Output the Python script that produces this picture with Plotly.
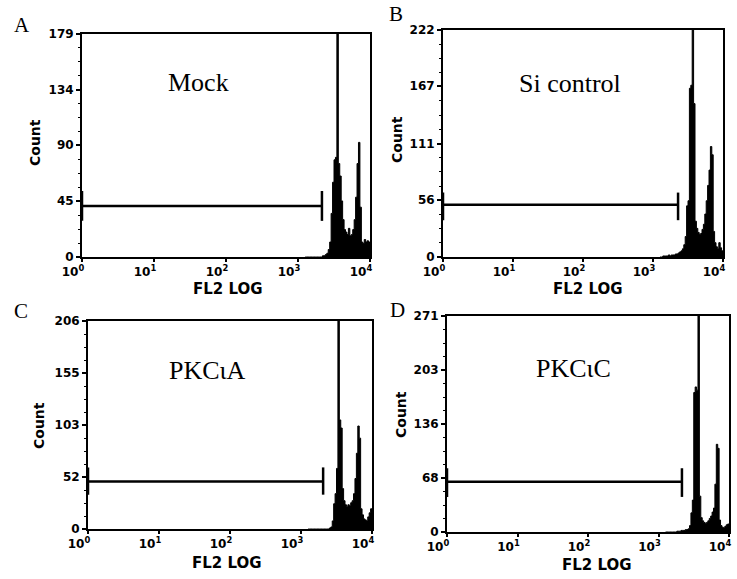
import plotly.graph_objects as go

# ---------------- data ----------------
# left edges of histogram channels, in log10(FL2) units
bin_edges_log = [3.10, 3.12, 3.14, 3.16, 3.18, 3.20, 3.22, 3.24, 3.26, 3.28,
                 3.30, 3.32, 3.34, 3.36, 3.38, 3.40, 3.42, 3.44, 3.46, 3.48,
                 3.50, 3.52, 3.54, 3.56, 3.58, 3.60, 3.62, 3.64, 3.66, 3.68,
                 3.70, 3.72, 3.74, 3.76, 3.78, 3.80, 3.82, 3.84, 3.86, 3.88,
                 3.90, 3.92, 3.94, 3.96, 3.98]
bin_end_log = 4.0

counts_mock = [0, 0, 0, 0, 0, 0, 0, 0, 0, 0,
               0, 0, 1, 1, 2, 3, 6, 12, 35, 60,
               78, 80, 260, 75, 65, 45, 30, 22, 20, 18,
               23, 17, 18, 22, 30, 48, 75, 92, 40, 12,
               11, 14, 12, 13, 12]
counts_sicontrol = [0, 0, 1, 1, 1, 1, 2, 1, 2, 2,
                    2, 3, 3, 4, 5, 6, 8, 12, 20, 50,
                    55, 165, 168, 270, 150, 35, 28, 24, 22, 23,
                    27, 32, 42, 55, 70, 85, 108, 100, 25, 14,
                    10, 8, 14, 9, 6]
counts_pkca = [0, 0, 0, 0, 0, 0, 0, 0, 0, 0,
               0, 0, 0, 0, 0, 1, 2, 8, 25, 35,
               60, 260, 108, 100, 40, 28, 24, 22, 24, 23,
               26, 28, 35, 50, 75, 102, 90, 20, 14, 10,
               9, 8, 12, 16, 20]
counts_pkcc = [0, 0, 0, 0, 0, 0, 0, 0, 1, 1,
               1, 2, 2, 2, 3, 3, 4, 8, 24, 40,
               175, 182, 178, 300, 45, 18, 14, 12, 11, 12,
               14, 17, 20, 25, 30, 60, 110, 105, 15, 8,
               6, 5, 7, 9, 10]

panel_letters = ["A", "B", "C", "D"]
panel_names = ["Mock", "Si control", "PKC\u03b9A", "PKC\u03b9C"]
y_maxima = [179, 222, 206, 271]
y_tick_values = [[0, 45, 90, 134, 179],
                 [0, 56, 111, 167, 222],
                 [0, 52, 103, 155, 206],
                 [0, 68, 136, 203, 271]]
x_tick_values = [1, 10, 100, 1000, 10000]
x_tick_labels = ["10<sup>0</sup>", "10<sup>1</sup>", "10<sup>2</sup>",
                 "10<sup>3</sup>", "10<sup>4</sup>"]
gate_start = [1, 1, 1, 1]
gate_end = [2150, 2280, 2050, 2150]
gate_level = [41, 51, 47, 63]
gate_tick_low = [29, 36, 34, 44]
gate_tick_high = [53, 63, 61, 80]
all_counts = [counts_mock, counts_sicontrol, counts_pkca, counts_pkcc]

# ---------------- layout (pixels) ----------------
W, H = 737, 579
# plot-area boxes: x0, x1, y0(top), y1(bottom)
boxes = [(82, 370, 34, 257), (443, 723, 30, 257),
         (88, 372, 321, 529), (447, 729, 316, 532)]
letter_pos = [(22, 25), (396, 14), (21, 311), (397, 310)]
name_pos = [(198, 82), (570, 83), (207, 370), (573, 368)]
count_pos = [(35, 143), (397, 140), (39, 426), (401, 415)]
fl2_pos = [(228, 289), (588, 289), (227, 563), (597, 565)]

def px(x):
    return x / W

def py(y):
    return 1 - y / H

fig = go.Figure()
tick_font = dict(family="DejaVu Sans", size=12, color="black", weight="bold")

for i in range(4):
    n = "" if i == 0 else str(i + 1)
    xa, ya = "x" + n, "y" + n
    xs = [10 ** e for e in bin_edges_log] + [10 ** bin_end_log]
    ys = all_counts[i] + [all_counts[i][-1]]
    fig.add_trace(go.Scatter(
        x=xs, y=ys, xaxis=xa, yaxis=ya, mode="lines",
        line=dict(shape="hv", color="black", width=1),
        fill="tozeroy", fillcolor="black", showlegend=False, hoverinfo="skip"))
    gx = [gate_start[i], gate_end[i], None,
          gate_start[i], gate_start[i], None,
          gate_end[i], gate_end[i]]
    gy = [gate_level[i], gate_level[i], None,
          gate_tick_low[i], gate_tick_high[i], None,
          gate_tick_low[i], gate_tick_high[i]]
    fig.add_trace(go.Scatter(
        x=gx, y=gy, xaxis=xa, yaxis=ya, mode="lines",
        line=dict(color="black", width=2.5), showlegend=False,
        hoverinfo="skip", cliponaxis=False))

    x0, x1, yt, yb = boxes[i]
    fig.layout["xaxis" + n] = dict(
        type="log", range=[0, 4], domain=[px(x0), px(x1)], anchor=ya,
        tickvals=x_tick_values, ticktext=x_tick_labels, automargin=False,
        ticklabelshift=-9, ticklabeloverflow="allow",
        showline=True, mirror=True, linecolor="black", linewidth=2,
        ticks="outside", ticklen=3, tickwidth=1.5, tickcolor="black",
        showgrid=False, zeroline=False, tickfont=tick_font)
    fig.layout["yaxis" + n] = dict(
        range=[0, y_maxima[i]], domain=[py(yb), py(yt)], anchor=xa,
        tickvals=y_tick_values[i], showline=True, mirror=True, automargin=False,
        linecolor="black", linewidth=2, ticks="outside", ticklen=4,
        tickwidth=1.5, tickcolor="black", showgrid=False, zeroline=False,
        minor=dict(tick0=0, dtick=y_maxima[i] / 16, ticks="outside",
                   ticklen=2, tickwidth=1, tickcolor="black"),
        tickfont=tick_font)

annotations = []
for i in range(4):
    lx, ly = letter_pos[i]
    annotations.append(dict(
        x=px(lx), y=py(ly), xref="paper", yref="paper", text=panel_letters[i],
        showarrow=False, xanchor="center", yanchor="middle",
        font=dict(family="Liberation Serif", size=21, color="black")))
    nx, ny = name_pos[i]
    annotations.append(dict(
        x=px(nx), y=py(ny), xref="paper", yref="paper", text=panel_names[i],
        showarrow=False, xanchor="center", yanchor="middle",
        font=dict(family="Liberation Serif", size=26, color="black")))
    cx, cy = count_pos[i]
    annotations.append(dict(
        x=px(cx), y=py(cy), xref="paper", yref="paper", text="Count",
        showarrow=False, xanchor="center", yanchor="middle", textangle=-90,
        font=dict(family="DejaVu Sans", size=14, color="black", weight="bold")))
    fx, fy = fl2_pos[i]
    annotations.append(dict(
        x=px(fx), y=py(fy), xref="paper", yref="paper", text="FL2 LOG",
        showarrow=False, xanchor="center", yanchor="middle",
        font=dict(family="DejaVu Sans", size=15, color="black", weight="bold")))

fig.update_layout(
    width=W, height=H, margin=dict(l=0, r=0, t=0, b=0, autoexpand=False),
    paper_bgcolor="white", plot_bgcolor="white",
    annotations=annotations, showlegend=False)

fig.write_html(
    "out.html", config={"displayModeBar": False},
    post_script="document.body.style.margin='0px';document.body.style.overflow='hidden';")
